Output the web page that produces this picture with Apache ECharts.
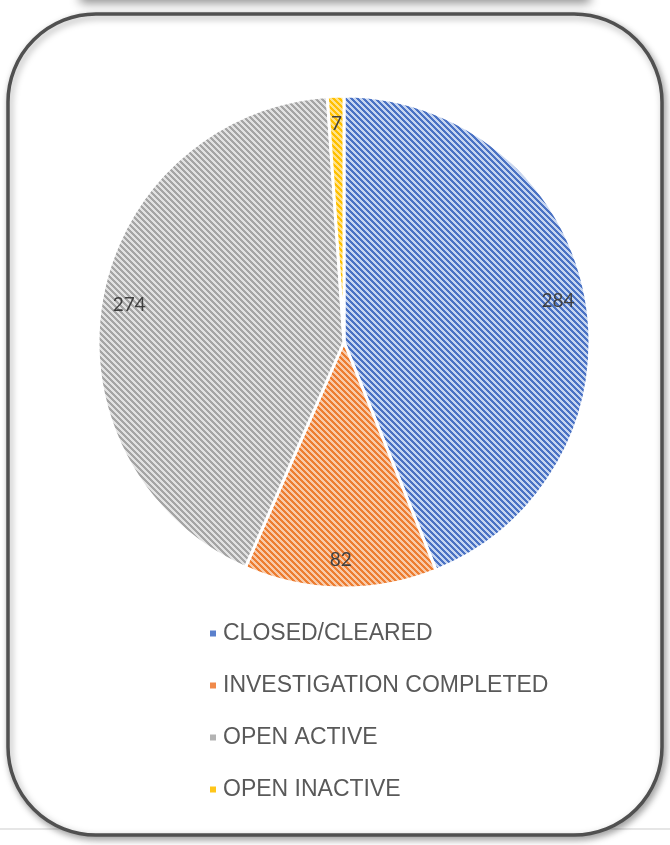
<!DOCTYPE html>
<html>
<head>
<meta charset="utf-8">
<script src="https://cdn.jsdelivr.net/npm/echarts@6/dist/echarts.min.js"></script>
<style>
  html, body { margin: 0; padding: 0; background: #fff; }
  #chart { width: 670px; height: 845px; }
</style>
</head>
<body>
<div id="chart"></div>
<script>
// data
const categories = ['CLOSED/CLEARED', 'INVESTIGATION COMPLETED', 'OPEN ACTIVE', 'OPEN INACTIVE'];
const counts = [284, 82, 274, 7];

// striped fill like the office "wide downward diagonal" pattern
const stripeColors = [
  ['#4a72c4', '#c6d5f0'],
  ['#ed7d31', '#f8caa9'],
  ['#a5a5a5', '#e2e2e2'],
  ['#ffc000', '#ffe28a']
];
const legendColors = ['#5a80cc', '#f0894a', '#b3b3b3', '#ffc61a'];

const makeStripe = (dark, light) => {
  const size = 6;
  const cv = document.createElement('canvas');
  cv.width = size;
  cv.height = size;
  const ctx = cv.getContext('2d');
  ctx.fillStyle = light;
  ctx.fillRect(0, 0, size, size);
  ctx.fillStyle = dark;
  for (let y = 0; y < size; y++) {
    for (let x = 0; x < size; x++) {
      if (((x - y) % size + size) % size < 3) ctx.fillRect(x, y, 1, 1);
    }
  }
  return { image: cv, repeat: 'repeat' };
};

const patterns = stripeColors.map(c => makeStripe(c[0], c[1]));

const pieData = categories.map((name, i) => ({
  name: name,
  value: counts[i],
  itemStyle: { color: patterns[i] }
}));

const labelData = categories.map((name, i) => ({ name: name, value: counts[i] }));

const chart = echarts.init(document.getElementById('chart'));

const option = {
  backgroundColor: '#fff',
  animation: false,
  legend: {
    data: categories.map((name, i) => ({ name: name, itemStyle: { color: legendColors[i] } })),
    orient: 'vertical',
    left: 203,
    top: 617,
    icon: 'rect',
    itemWidth: 8,
    itemHeight: 8,
    itemGap: 29,
    selectedMode: false,
    textStyle: { fontFamily: 'Liberation Sans', fontSize: 23, color: '#595959', padding: [0, 0, 0, 1] }
  },
  graphic: [
    {
      // shadow of the box above
      type: 'rect',
      z: -2,
      shape: { x: 80, y: -40, width: 510, height: 40 },
      style: { fill: '#fff', shadowBlur: 10, shadowColor: 'rgba(0,0,0,0.45)', shadowOffsetY: 3 }
    },
    {
      type: 'line',
      z: -2,
      shape: { x1: 0, y1: 829, x2: 670, y2: 829 },
      style: { stroke: '#dedede', lineWidth: 1.5 }
    },
    {
      type: 'rect',
      z: -1,
      shape: { x: 8, y: 14, width: 654, height: 821, r: 88 },
      style: {
        fill: '#fff',
        stroke: '#505050',
        lineWidth: 3.5,
        shadowBlur: 7,
        shadowColor: 'rgba(0,0,0,0.35)',
        shadowOffsetX: 2,
        shadowOffsetY: 3
      }
    }
  ],
  series: [
    {
      type: 'pie',
      center: [344, 342],
      radius: [0, 246],
      startAngle: 90,
      clockwise: true,
      silent: true,
      label: { show: false },
      labelLine: { show: false },
      itemStyle: { borderColor: '#fff', borderWidth: 3 },
      data: pieData
    },
    {
      // transparent ring that only carries the value labels near the rim
      type: 'pie',
      center: [344, 342],
      radius: [184, 246],
      startAngle: 90,
      clockwise: true,
      silent: true,
      itemStyle: { color: 'rgba(0,0,0,0)' },
      label: {
        show: true,
        position: 'inside',
        formatter: '{c}',
        fontFamily: 'Lato',
        fontSize: 19,
        color: '#404040'
      },
      labelLine: { show: false },
      data: labelData
    }
  ]
};

chart.setOption(option);
</script>
</body>
</html>
